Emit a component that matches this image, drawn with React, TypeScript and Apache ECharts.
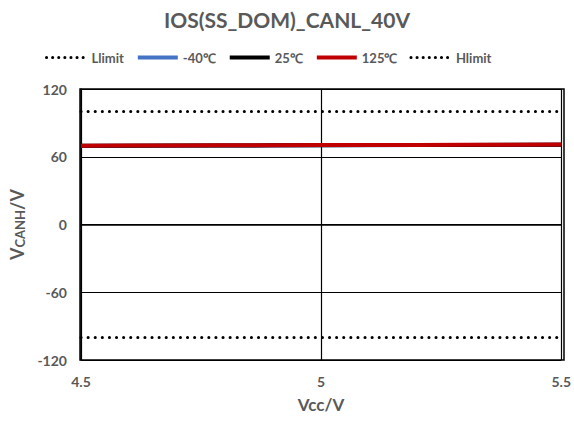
import React, { useEffect, useRef } from "react";
import * as echarts from "echarts";

const xValues = [4.5, 4.6, 4.7, 4.8, 4.9, 5.0, 5.1, 5.2, 5.3, 5.4, 5.5];
const llimit = [-100, -100, -100, -100, -100, -100, -100, -100, -100, -100, -100];
const hlimit = [100, 100, 100, 100, 100, 100, 100, 100, 100, 100, 100];
const tMinus40 = [69.6, 69.7, 69.8, 69.9, 70.0, 70.1, 70.2, 70.3, 70.4, 70.5, 70.6];
const t25 = [69.7, 69.8, 69.9, 70.0, 70.1, 70.2, 70.3, 70.4, 70.5, 70.6, 70.7];
const t125 = [69.8, 69.9, 70.0, 70.1, 70.2, 70.3, 70.4, 70.5, 70.6, 70.7, 70.8];
const yTicks = [-120, -60, 0, 60, 120];
const xTicks = [4.5, 5, 5.5];

const FONT = "Lato, 'Open Sans', sans-serif";
const GRAY = "#595959";

export default function App() {
  const ref = useRef<HTMLDivElement>(null);
  useEffect(() => {
    if (!ref.current) return;
    const chart = echarts.init(ref.current, undefined, { renderer: "svg" });
    const pair = (ys: number[]) => xValues.map((x, i) => [x, ys[i]]);
    const dotted = { width: 3, type: [0.1, 7] as number[], cap: "round" as const, color: "#000" };
    const legendDotted = { width: 3, type: [0.1, 6] as number[], cap: "round" as const, color: "#000" };
    chart.setOption({
      animation: false,
      textStyle: { fontFamily: FONT },
      title: {
        text: "IOS(SS_DOM)_CANL_40V",
        left: "center",
        top: 4,
        textStyle: { fontFamily: FONT, fontSize: 21, fontWeight: "bold", color: GRAY },
      },
      legend: {
        top: 46,
        left: 40,
        itemWidth: 40,
        itemHeight: 6,
        itemGap: 12,
        itemStyle: { color: "transparent", borderWidth: 0, opacity: 0 },
        textStyle: { fontFamily: FONT, fontSize: 13, fontWeight: "bold", color: GRAY },
        data: [
          { name: "Llimit", lineStyle: legendDotted },
          { name: "-40℃", lineStyle: { width: 4, color: "#4472C4" } },
          { name: "25℃", lineStyle: { width: 4, color: "#000" } },
          { name: "125℃", lineStyle: { width: 4, color: "#C00000" } },
          { name: "Hlimit", lineStyle: legendDotted },
        ],
      },
      grid: { left: 80, right: 10, top: 89, bottom: 63 },
      xAxis: {
        type: "value",
        min: 4.5,
        max: 5.5,
        interval: 0.5,
        name: "Vcc/V",
        nameLocation: "middle",
        nameGap: 36,
        nameTextStyle: { fontFamily: FONT, fontSize: 17, fontWeight: "bold", color: GRAY },
        axisLine: { show: true, lineStyle: { color: "#000", width: 1.5 } },
        axisTick: { show: false },
        axisLabel: {
          color: GRAY,
          fontSize: 14,
          fontWeight: "bold",
          margin: 14,
          formatter: (v: number) => (xTicks.includes(v) ? String(v) : ""),
        },
        splitLine: { show: true, lineStyle: { color: "#000", width: 1.2 } },
      },
      yAxis: {
        type: "value",
        min: -120,
        max: 120,
        interval: 60,
        name: "{a|V}{b|CANH}{a|/V}",
        nameLocation: "middle",
        nameGap: 52,
        nameTextStyle: {
          rich: {
            a: { fontFamily: FONT, fontSize: 18, fontWeight: "bold", color: GRAY },
            b: { fontFamily: FONT, fontSize: 13, fontWeight: "bold", color: GRAY, padding: [6, 0, 0, 0] },
          },
        },
        axisLine: { show: true, lineStyle: { color: "#000", width: 1.5 } },
        axisTick: { show: false },
        axisLabel: {
          color: GRAY,
          fontSize: 14,
          fontWeight: "bold",
          margin: 14,
          formatter: (v: number) => (yTicks.includes(v) ? String(v) : ""),
        },
        splitLine: { show: true, lineStyle: { color: "#000", width: 1.2 } },
      },
      series: [
        {
          name: "Llimit",
          type: "line",
          data: pair(llimit),
          symbol: "none",
          lineStyle: dotted,
          itemStyle: { color: "#000" },
        },
        {
          name: "-40℃",
          type: "line",
          data: pair(tMinus40),
          symbol: "none",
          lineStyle: { width: 4, color: "#4472C4" },
          itemStyle: { color: "#4472C4" },
        },
        {
          name: "25℃",
          type: "line",
          data: pair(t25),
          symbol: "none",
          lineStyle: { width: 4, color: "#000" },
          itemStyle: { color: "#000" },
        },
        {
          name: "125℃",
          type: "line",
          data: pair(t125),
          symbol: "none",
          lineStyle: { width: 4, color: "#C00000" },
          itemStyle: { color: "#C00000" },
        },
        {
          name: "Hlimit",
          type: "line",
          data: pair(hlimit),
          symbol: "none",
          lineStyle: dotted,
          itemStyle: { color: "#000" },
        },
      ],
      graphic: [
        {
          type: "rect",
          shape: { x: 80, y: 89, width: 484, height: 271 },
          style: { fill: "none", stroke: "#000", lineWidth: 1.5 },
          silent: true,
          z: 10,
        },
      ],
    });
    return () => chart.dispose();
  }, []);
  return <div ref={ref} style={{ width: 574, height: 423, position: "absolute", left: 0, top: 0 }} />;
}
